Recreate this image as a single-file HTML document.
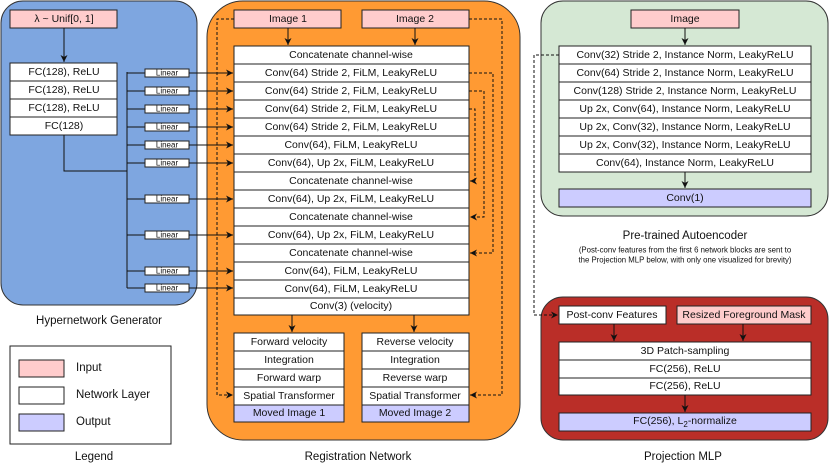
<!DOCTYPE html>
<html><head><meta charset="utf-8"><style>
html,body{margin:0;padding:0;background:#fff}
svg{display:block}
text{font-family:"Liberation Sans",sans-serif;font-size:10.5px;fill:#111;text-anchor:middle;dominant-baseline:central}
.b{stroke:#222;stroke-width:1}
.d{stroke:#111;stroke-width:1;stroke-dasharray:3,2;fill:none}
.l{stroke:#111;stroke-width:1;fill:none}
.s{font-size:8px}
</style></head><body>
<svg width="830" height="471" viewBox="0 0 830 471" xmlns="http://www.w3.org/2000/svg">
<defs>
<marker id="a" markerWidth="8" markerHeight="8" refX="7" refY="4" orient="auto" markerUnits="userSpaceOnUse"><path d="M0,0.5 L7,4 L0,7.5 L2,4 Z" fill="#111"/></marker>
</defs>
<rect x="1" y="1" width="196" height="304" rx="22" fill="#7EA6E0" stroke="#333"/>
<rect x="207" y="1" width="313" height="439" rx="36" fill="#FF9A33" stroke="#333"/>
<rect x="541" y="1" width="287" height="215" rx="22" fill="#D5E8D4" stroke="#333"/>
<rect x="541" y="297" width="287" height="143" rx="22" fill="#BA2E28" stroke="#333"/>

<rect x="10" y="10" width="107" height="18" fill="#FFCCCC" class="b"/><text x="64" y="19">λ ~ Unif[0, 1]</text>
<path d="M64,28 V62" class="l" marker-end="url(#a)"/>
<g fill="#fff" class="b">
<rect x="10" y="63" width="107" height="18"/><rect x="10" y="81" width="107" height="18"/><rect x="10" y="99" width="107" height="18"/><rect x="10" y="117" width="107" height="18"/>
</g>
<text x="64" y="72">FC(128), ReLU</text><text x="64" y="90">FC(128), ReLU</text><text x="64" y="108">FC(128), ReLU</text><text x="64" y="126">FC(128)</text>
<path d="M64,135 V171 H127 M127,72 V288" class="l"/>
<path d="M127,73 H145 M127,91 H145 M127,109 H145 M127,127 H145 M127,145 H145 M127,163 H145 M127,199 H145 M127,235 H145 M127,271 H145 M127,288 H145" class="l"/>
<g fill="#fff" stroke="#222">
<rect x="145" y="69" width="44" height="8"/><rect x="145" y="87" width="44" height="8"/><rect x="145" y="105" width="44" height="8"/><rect x="145" y="123" width="44" height="8"/><rect x="145" y="141" width="44" height="8"/><rect x="145" y="159" width="44" height="8"/><rect x="145" y="195" width="44" height="8"/><rect x="145" y="231" width="44" height="8"/><rect x="145" y="267" width="44" height="8"/><rect x="145" y="284" width="44" height="8"/>
</g>
<text x="167" y="73" class="s">Linear</text><text x="167" y="91" class="s">Linear</text><text x="167" y="109" class="s">Linear</text><text x="167" y="127" class="s">Linear</text><text x="167" y="145" class="s">Linear</text><text x="167" y="163" class="s">Linear</text><text x="167" y="199" class="s">Linear</text><text x="167" y="235" class="s">Linear</text><text x="167" y="271" class="s">Linear</text><text x="167" y="288" class="s">Linear</text>
<path d="M189,73 H233" class="l" marker-end="url(#a)"/><path d="M189,91 H233" class="l" marker-end="url(#a)"/><path d="M189,109 H233" class="l" marker-end="url(#a)"/><path d="M189,127 H233" class="l" marker-end="url(#a)"/><path d="M189,145 H233" class="l" marker-end="url(#a)"/><path d="M189,163 H233" class="l" marker-end="url(#a)"/><path d="M189,199 H233" class="l" marker-end="url(#a)"/><path d="M189,235 H233" class="l" marker-end="url(#a)"/><path d="M189,271 H233" class="l" marker-end="url(#a)"/><path d="M189,288 H233" class="l" marker-end="url(#a)"/>
<text x="99" y="321" style="font-size:11.5px">Hypernetwork Generator</text>

<rect x="10" y="346" width="161" height="98" fill="#fff" class="b"/>
<rect x="19" y="360" width="45" height="17" fill="#FFCCCC" class="b"/><text x="76" y="368" style="text-anchor:start;font-size:11.5px">Input</text>
<rect x="19" y="387" width="45" height="17" fill="#fff" class="b"/><text x="76" y="395" style="text-anchor:start;font-size:11.5px">Network Layer</text>
<rect x="19" y="414" width="45" height="17" fill="#CCCCFF" class="b"/><text x="76" y="422" style="text-anchor:start;font-size:11.5px">Output</text>
<text x="94" y="457" style="font-size:11.5px">Legend</text>

<rect x="234" y="10" width="107" height="18" fill="#FFCCCC" class="b"/><text x="288" y="19">Image 1</text>
<rect x="362" y="10" width="107" height="18" fill="#FFCCCC" class="b"/><text x="415" y="19">Image 2</text>
<path d="M288,28 V45" class="l" marker-end="url(#a)"/><path d="M415,28 V45" class="l" marker-end="url(#a)"/>
<path d="M234,19 H217 V395 H233" class="d" marker-end="url(#a)"/>
<path d="M469,19 H502 V395 H470" class="d" marker-end="url(#a)"/>
<g fill="#fff" class="b">
<rect x="234" y="46" width="235" height="18"/><rect x="234" y="64" width="235" height="18"/><rect x="234" y="82" width="235" height="18"/><rect x="234" y="100" width="235" height="18"/><rect x="234" y="118" width="235" height="18"/><rect x="234" y="136" width="235" height="18"/><rect x="234" y="154" width="235" height="18"/><rect x="234" y="172" width="235" height="18"/><rect x="234" y="190" width="235" height="18"/><rect x="234" y="208" width="235" height="18"/><rect x="234" y="226" width="235" height="18"/><rect x="234" y="244" width="235" height="18"/><rect x="234" y="262" width="235" height="18"/><rect x="234" y="280" width="235" height="18"/><rect x="234" y="298" width="235" height="17"/>
</g>
<text x="351" y="55">Concatenate channel-wise</text>
<text x="351" y="73">Conv(64) Stride 2, FiLM, LeakyReLU</text>
<text x="351" y="91">Conv(64) Stride 2, FiLM, LeakyReLU</text>
<text x="351" y="109">Conv(64) Stride 2, FiLM, LeakyReLU</text>
<text x="351" y="127">Conv(64) Stride 2, FiLM, LeakyReLU</text>
<text x="351" y="145">Conv(64), FiLM, LeakyReLU</text>
<text x="351" y="163">Conv(64), Up 2x, FiLM, LeakyReLU</text>
<text x="351" y="181">Concatenate channel-wise</text>
<text x="351" y="199">Conv(64), Up 2x, FiLM, LeakyReLU</text>
<text x="351" y="217">Concatenate channel-wise</text>
<text x="351" y="235">Conv(64), Up 2x, FiLM, LeakyReLU</text>
<text x="351" y="253">Concatenate channel-wise</text>
<text x="351" y="271">Conv(64), FiLM, LeakyReLU</text>
<text x="351" y="289">Conv(64), FiLM, LeakyReLU</text>
<text x="351" y="306">Conv(3) (velocity)</text>
<path d="M469,73 H493 V253 H470" class="d" marker-end="url(#a)"/>
<path d="M469,91 H484 V217 H470" class="d" marker-end="url(#a)"/>
<path d="M469,109 H475 V181 H470" class="d" marker-end="url(#a)"/>
<path d="M292,315 V332" class="l" marker-end="url(#a)"/><path d="M414,315 V332" class="l" marker-end="url(#a)"/>
<g class="b">
<rect x="234" y="333" width="110" height="18" fill="#fff"/><rect x="234" y="351" width="110" height="18" fill="#fff"/><rect x="234" y="369" width="110" height="18" fill="#fff"/><rect x="234" y="387" width="110" height="18" fill="#fff"/><rect x="234" y="405" width="110" height="17" fill="#CCCCFF"/>
<rect x="362" y="333" width="107" height="18" fill="#fff"/><rect x="362" y="351" width="107" height="18" fill="#fff"/><rect x="362" y="369" width="107" height="18" fill="#fff"/><rect x="362" y="387" width="107" height="18" fill="#fff"/><rect x="362" y="405" width="107" height="17" fill="#CCCCFF"/>
</g>
<text x="289" y="342">Forward velocity</text><text x="289" y="360">Integration</text><text x="289" y="378">Forward warp</text><text x="289" y="396">Spatial Transformer</text><text x="289" y="413">Moved Image 1</text>
<text x="415" y="342">Reverse velocity</text><text x="415" y="360">Integration</text><text x="415" y="378">Reverse warp</text><text x="415" y="396">Spatial Transformer</text><text x="415" y="413">Moved Image 2</text>
<text x="358" y="457" style="font-size:11.5px">Registration Network</text>

<rect x="631" y="10" width="108" height="18" fill="#FFCCCC" class="b"/><text x="685" y="19">Image</text>
<path d="M685,28 V45" class="l" marker-end="url(#a)"/>
<g fill="#fff" class="b">
<rect x="559" y="46" width="252" height="18"/><rect x="559" y="64" width="252" height="18"/><rect x="559" y="82" width="252" height="18"/><rect x="559" y="100" width="252" height="18"/><rect x="559" y="118" width="252" height="18"/><rect x="559" y="136" width="252" height="18"/><rect x="559" y="154" width="252" height="18"/>
</g>
<text x="685" y="55">Conv(32) Stride 2, Instance Norm, LeakyReLU</text>
<text x="685" y="73">Conv(64) Stride 2, Instance Norm, LeakyReLU</text>
<text x="685" y="91">Conv(128) Stride 2, Instance Norm, LeakyReLU</text>
<text x="685" y="109">Up 2x, Conv(64), Instance Norm, LeakyReLU</text>
<text x="685" y="127">Up 2x, Conv(32), Instance Norm, LeakyReLU</text>
<text x="685" y="145">Up 2x, Conv(32), Instance Norm, LeakyReLU</text>
<text x="685" y="163">Conv(64), Instance Norm, LeakyReLU</text>
<path d="M685,172 V188" class="l" marker-end="url(#a)"/>
<rect x="559" y="189" width="252" height="18" fill="#CCCCFF" class="b"/><text x="685" y="198">Conv(1)</text>
<text x="685" y="236" style="font-size:11.5px">Pre-trained Autoencoder</text>
<text x="685" y="250" style="font-size:7.8px">(Post-conv features from the first 6 network blocks are sent to</text>
<text x="685" y="260" style="font-size:7.8px">the Projection MLP below, with only one visualized for brevity)</text>
<path d="M559,55 H534 V315 H558" class="d" marker-end="url(#a)"/>

<rect x="559" y="306" width="107" height="18" fill="#fff" class="b"/><text x="612" y="315">Post-conv Features</text>
<rect x="677" y="306" width="134" height="18" fill="#FFCCCC" class="b"/><text x="744" y="315">Resized Foreground Mask</text>
<path d="M614,324 V341" class="l" marker-end="url(#a)"/><path d="M743,324 V341" class="l" marker-end="url(#a)"/>
<g fill="#fff" class="b"><rect x="559" y="342" width="252" height="18"/><rect x="559" y="360" width="252" height="18"/><rect x="559" y="378" width="252" height="17"/></g>
<text x="685" y="351">3D Patch-sampling</text><text x="685" y="369">FC(256), ReLU</text><text x="685" y="386">FC(256), ReLU</text>
<path d="M685,395 V412" class="l" marker-end="url(#a)"/>
<rect x="559" y="413" width="252" height="18" fill="#CCCCFF" class="b"/><text x="685" y="421">FC(256), L<tspan dy="3" style="font-size:8px">2</tspan><tspan dy="-3">-normalize</tspan></text>
<text x="683" y="457" style="font-size:11.5px">Projection MLP</text>
</svg>
</body></html>
